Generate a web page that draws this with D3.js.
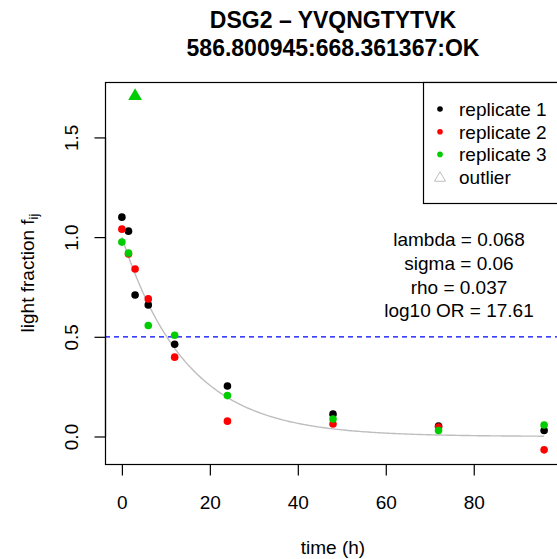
<!DOCTYPE html>
<html>
<head>
<meta charset="utf-8">
<script src="https://cdn.jsdelivr.net/npm/d3@7"></script>
<style>
  html, body { margin: 0; padding: 0; background: #fff; }
  svg { display: block; font-family: "Liberation Sans", Arial, Helvetica, sans-serif; }
</style>
</head>
<body>
<div id="chart"></div>
<script>
// ---- data ----
const titleLines = ["DSG2 \u2013 YVQNGTYTVK", "586.800945:668.361367:OK"];
const timePoints = [0, 1.5, 3, 6, 12, 24, 48, 72, 96];
const replicate1 = [1.10, 1.03, 0.71, 0.66, 0.463, 0.253, 0.112, 0.053, 0.030];
const replicate2 = [1.04, 0.915, 0.84, 0.69, 0.398, 0.077, 0.063, 0.047, -0.067];
const replicate3 = [0.975, 0.92, null, 0.557, 0.508, 0.205, 0.088, 0.030, 0.058];
const outlierTime = [3];
const outlierValue = [1.707];
const outlierReplicate = [3];
const seriesNames = ["replicate 1", "replicate 2", "replicate 3"];
const seriesColors = ["#000000", "#FF0000", "#00CD00"];
const legendLabels = ["replicate 1", "replicate 2", "replicate 3", "outlier"];
const lambda = [0.068];
const statsLines = ["lambda = 0.068", "sigma = 0.06", "rho = 0.037", "log10 OR = 17.61"];
const xTicks = [0, 20, 40, 60, 80];
const yTicks = [0, 0.5, 1.0, 1.5];
const yTickLabels = ["0.0", "0.5", "1.0", "1.5"];
const threshold = [0.5];
const xLabel = "time (h)";

// ---- layout ----
const W = 557, H = 559;
const L = 105, R = 561, T = 82, B = 464;
const fontSize = 19;

const svg = d3.select("#chart").append("svg").attr("width", W).attr("height", H);

// domains as R would (4% extension)
const allY = [...replicate1, ...replicate2, ...replicate3.filter(v => v !== null), ...outlierValue];
const yMinD = d3.min(allY), yMaxD = d3.max(allY);
const yExt = (yMaxD - yMinD) * 0.04;
const xMinD = d3.min(timePoints), xMaxD = d3.max(timePoints);
const xExt = (xMaxD - xMinD) * 0.04;

const x = d3.scaleLinear().domain([xMinD - xExt, xMaxD + xExt]).range([L, R]);
const y = d3.scaleLinear().domain([yMinD - yExt, yMaxD + yExt]).range([B, T]);

// clip
svg.append("clipPath").attr("id", "clip").append("rect")
  .attr("x", L).attr("y", T).attr("width", R - L).attr("height", B - T);
const plot = svg.append("g").attr("clip-path", "url(#clip)");

// threshold dashed line
plot.append("line")
  .attr("x1", L).attr("x2", R)
  .attr("y1", y(threshold[0])).attr("y2", y(threshold[0]))
  .attr("stroke", "#0000FF").attr("stroke-width", 1.2)
  .attr("stroke-dasharray", "5,4");

// fitted curve
const curveT = d3.range(0, 96.01, 0.5);
plot.append("path")
  .datum(curveT)
  .attr("fill", "none").attr("stroke", "#BEBEBE").attr("stroke-width", 1.4)
  .attr("d", d3.line().x(t => x(t)).y(t => y(Math.exp(-lambda[0] * t))));

// points
const series = [replicate1, replicate2, replicate3];
series.forEach((vals, si) => {
  plot.append("g").selectAll("circle")
    .data(timePoints.map((t, i) => ({ t, v: vals[i] })).filter(d => d.v !== null))
    .join("circle")
    .attr("cx", d => x(d.t)).attr("cy", d => y(d.v))
    .attr("r", 3.8)
    .attr("fill", seriesColors[si]);
});

// outliers
function triPath(cx, cy, s) {
  const h = s * Math.sqrt(3) / 2;
  return `M${cx},${cy - 2 * h / 3}L${cx - s / 2},${cy + h / 3}L${cx + s / 2},${cy + h / 3}Z`;
}
plot.append("g").selectAll("path")
  .data(outlierTime.map((t, i) => ({ t, v: outlierValue[i], r: outlierReplicate[i] })))
  .join("path")
  .attr("d", d => triPath(x(d.t), y(d.v), 11))
  .attr("fill", d => seriesColors[d.r - 1])
  .attr("stroke", d => seriesColors[d.r - 1])
  .attr("stroke-width", 1.6)
  .attr("stroke-linejoin", "miter");

// box
svg.append("rect")
  .attr("x", L + 0.5).attr("y", T + 0.5)
  .attr("width", R - L).attr("height", B - T)
  .attr("fill", "none").attr("stroke", "#000").attr("stroke-width", 1.2);

// x axis
const xAxis = svg.append("g").attr("transform", `translate(0,${B + 0.5})`)
  .call(d3.axisBottom(x).tickValues(xTicks).tickSize(11).tickPadding(20).tickFormat(d => d3.format("d")(d)));
xAxis.select(".domain").attr("d", `M${x(xTicks[0])},0H${x(xTicks[xTicks.length - 1])}`).attr("stroke", "#000").attr("stroke-width", 1.2);
xAxis.selectAll(".tick line").attr("stroke", "#000").attr("stroke-width", 1.2);
xAxis.selectAll("text").attr("font-size", fontSize).attr("fill", "#000")
  .attr("font-family", "Liberation Sans, Arial, sans-serif");

// y axis
const yAxis = svg.append("g").attr("transform", `translate(${L + 0.5},0)`)
  .call(d3.axisLeft(y).tickValues(yTicks).tickSize(11).tickFormat((d, i) => yTickLabels[i]));
yAxis.select(".domain").attr("d", `M0,${y(yTicks[0])}V${y(yTicks[yTicks.length - 1])}`).attr("stroke", "#000").attr("stroke-width", 1.2);
yAxis.selectAll(".tick line").attr("stroke", "#000").attr("stroke-width", 1.2);
yAxis.selectAll("text")
  .attr("font-size", fontSize).attr("fill", "#000")
  .attr("font-family", "Liberation Sans, Arial, sans-serif")
  .attr("x", null).attr("dy", null)
  .attr("text-anchor", "middle")
  .attr("transform", "translate(-28,0) rotate(-90)");

// axis titles
svg.append("text")
  .attr("x", (L + R) / 2).attr("y", 554)
  .attr("text-anchor", "middle").attr("font-size", fontSize)
  .text(xLabel);

const yl = svg.append("text")
  .attr("transform", `translate(34,${(T + B) / 2}) rotate(-90)`)
  .attr("text-anchor", "middle").attr("font-size", fontSize);
yl.append("tspan").text("light fraction f");
yl.append("tspan").attr("dy", 4).attr("font-size", 13).text("ij");

// title
svg.selectAll("text.title").data(titleLines).join("text")
  .attr("class", "title")
  .attr("x", (L + R) / 2).attr("y", (d, i) => 28 + i * 27.5)
  .attr("text-anchor", "middle")
  .attr("font-size", 23).attr("font-weight", "bold")
  .text(d => d);

// stats text
svg.selectAll("text.stats").data(statsLines).join("text")
  .attr("class", "stats")
  .attr("x", 459).attr("y", (d, i) => 246 + i * 23.8)
  .attr("text-anchor", "middle").attr("font-size", fontSize)
  .text(d => d);

// legend
const lg = svg.append("g");
lg.append("rect")
  .attr("x", 423.5).attr("y", T + 0.5).attr("width", R - 423).attr("height", 121)
  .attr("fill", "#fff").attr("stroke", "#000").attr("stroke-width", 1.2);
const rowY = i => 109 + i * 22.7;
legendLabels.forEach((lab, i) => {
  if (i < 3) {
    lg.append("circle").attr("cx", 440).attr("cy", rowY(i)).attr("r", 2.8).attr("fill", seriesColors[i]);
  } else {
    lg.append("path").attr("d", triPath(440, rowY(i) + 1, 11))
      .attr("fill", "none").attr("stroke", "#BEBEBE").attr("stroke-width", 1);
  }
  lg.append("text").attr("x", 459).attr("y", rowY(i) + 7)
    .attr("font-size", fontSize).text(lab);
});
</script>
</body>
</html>
